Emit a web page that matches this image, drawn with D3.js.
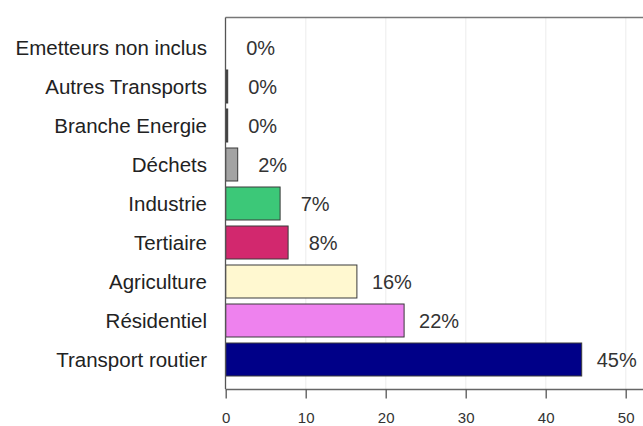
<!DOCTYPE html>
<meta charset="utf-8">
<script src="https://d3js.org/d3.v7.min.js"></script>
<style>
  body { margin: 0; background: #fff; }
  text { font-family: "Liberation Sans", Arial, sans-serif; }
</style>
<body>
<script>

// DATA

var categories = ['Emetteurs non inclus', 'Autres Transports', 'Branche Energie', 'Déchets',
  'Industrie', 'Tertiaire', 'Agriculture', 'Résidentiel', 'Transport routier'];
var values = [0, 0.25, 0.25, 1.5, 6.8, 7.8, 16.4, 22.3, 44.5];
var valueLabels = ['0%', '0%', '0%', '2%', '7%', '8%', '16%', '22%', '45%'];
var colors = ['#ffffff', '#444444', '#444444', '#a3a3a3', '#3cc878', '#d2286e', '#fff8d0', '#ee82ee', '#000088'];
var xTicks = [0, 10, 20, 30, 40, 50];

var width = 643;
var height = 426;

// SVG SETUP

var svg = d3.select("body")
  .append("svg")
  .attr("width", width)
  .attr("height", height);

// SCALES

var xScale = d3.scaleLinear()
  .domain([0, 50])
  .range([225.7, 625.7]);

var yScale = d3.scaleBand()
  .domain(categories)
  .range([28, 379])
  .paddingInner(0.154)
  .paddingOuter(0.077);

// GRID

svg.append("g")
  .selectAll("line")
  .data(xTicks.slice(1))
  .enter()
  .append("line")
    .attr("x1", function (d) { return xScale(d); })
    .attr("x2", function (d) { return xScale(d); })
    .attr("y1", 18)
    .attr("y2", 389)
    .attr("stroke", "#f2f2f2")
    .attr("stroke-width", 1.5);

// BARS

svg.append("g")
  .selectAll("rect")
  .data(values)
  .enter()
  .append("rect")
    .attr("x", xScale(0))
    .attr("y", function (d, i) { return yScale(categories[i]); })
    .attr("width", function (d) { return xScale(d) - xScale(0); })
    .attr("height", yScale.bandwidth())
    .attr("fill", function (d, i) { return colors[i]; })
    .attr("stroke", "#3a3a3a")
    .attr("stroke-width", 1);

// VALUE LABELS

svg.append("g")
  .selectAll("text")
  .data(values)
  .enter()
  .append("text")
    .attr("x", function (d) { return xScale(d) + 35; })
    .attr("y", function (d, i) { return yScale(categories[i]) + yScale.bandwidth() / 2; })
    .attr("dy", "0.35em")
    .attr("text-anchor", "middle")
    .style("font-size", "20px")
    .style("fill", "#333")
    .text(function (d, i) { return valueLabels[i]; });

// PLOT FRAME (top + left)

svg.append("line")
  .attr("x1", 225.5).attr("x2", width)
  .attr("y1", 17.5).attr("y2", 17.5)
  .attr("stroke", "#777").attr("stroke-width", 1.3);

svg.append("line")
  .attr("x1", 225.5).attr("x2", 225.5)
  .attr("y1", 17.5).attr("y2", 389)
  .attr("stroke", "#555").attr("stroke-width", 1.3);

// CATEGORY LABELS

svg.append("g")
  .selectAll("text")
  .data(categories)
  .enter()
  .append("text")
    .attr("x", 207)
    .attr("y", function (d) { return yScale(d) + yScale.bandwidth() / 2; })
    .attr("dy", "0.35em")
    .attr("text-anchor", "end")
    .style("font-size", "20.5px")
    .style("fill", "#222")
    .text(function (d) { return d; });

// X AXIS

var xAxis = svg.append("g")
  .attr("transform", "translate(0, 389.5)")
  .call(d3.axisBottom(xScale).tickValues(xTicks).tickSize(9).tickPadding(14));

xAxis.select(".domain")
  .attr("d", "M225.5,0H" + width)
  .attr("stroke", "#666")
  .attr("stroke-width", 1.5);

xAxis.selectAll(".tick line")
  .attr("stroke", "#555")
  .attr("stroke-width", 1.3);

xAxis.selectAll(".tick text")
  .style("font-size", "15px")
  .style("font-family", "'Liberation Sans', Arial, sans-serif")
  .attr("fill", "#333");

</script>
</body>
